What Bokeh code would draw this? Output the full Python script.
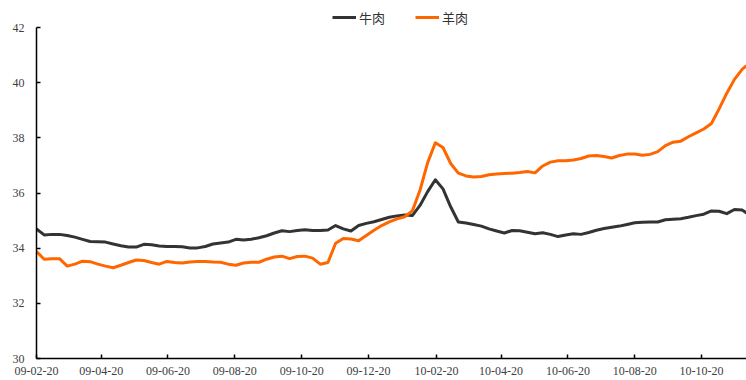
import pandas as pd
from bokeh.plotting import figure
from bokeh.models import (Range1d, FixedTicker, DatetimeTickFormatter, Legend,
                          LegendItem, ColumnDataSource)
from bokeh.embed import file_html
from bokeh.resources import INLINE

# Weekly retail price series (yuan/kg), Feb 2009 - Nov 2010
dates = list(pd.date_range("2009-02-20", periods=93, freq="7D")) + [pd.Timestamp("2010-11-30")]

beef = [
    34.70, 34.48, 34.50, 34.50, 34.46, 34.40, 34.32, 34.24, 34.23, 34.22,
    34.15, 34.09, 34.04, 34.04, 34.14, 34.12, 34.08, 34.06, 34.06, 34.05,
    34.01, 34.01, 34.06, 34.15, 34.19, 34.22, 34.32, 34.30, 34.32, 34.38,
    34.45, 34.55, 34.63, 34.60, 34.64, 34.67, 34.64, 34.64, 34.66, 34.82,
    34.70, 34.62, 34.82, 34.90, 34.96, 35.04, 35.12, 35.17, 35.20, 35.18,
    35.55, 36.05, 36.48, 36.15, 35.50, 34.95, 34.91, 34.86, 34.80, 34.70,
    34.62, 34.55, 34.64, 34.63, 34.58, 34.52, 34.56, 34.50, 34.42, 34.48,
    34.52, 34.50, 34.57, 34.65, 34.71, 34.76, 34.80, 34.86, 34.92, 34.94,
    34.95, 34.95, 35.03, 35.05, 35.07, 35.12, 35.18, 35.23, 35.35, 35.34,
    35.25, 35.40, 35.38, 35.28,
]

mutton = [
    33.88, 33.60, 33.62, 33.62, 33.35, 33.42, 33.53, 33.51, 33.42, 33.35,
    33.29, 33.38, 33.48, 33.57, 33.55, 33.48, 33.42, 33.52, 33.48, 33.46,
    33.50, 33.52, 33.52, 33.50, 33.49, 33.42, 33.38, 33.46, 33.49, 33.49,
    33.60, 33.68, 33.71, 33.62, 33.70, 33.71, 33.64, 33.42, 33.48, 34.18,
    34.35, 34.33, 34.27, 34.46, 34.65, 34.82, 34.95, 35.06, 35.14, 35.35,
    36.10, 37.10, 37.82, 37.65, 37.07, 36.72, 36.62, 36.58, 36.60, 36.66,
    36.69, 36.71, 36.72, 36.74, 36.78, 36.73, 36.98, 37.12, 37.17, 37.17,
    37.20, 37.25, 37.34, 37.36, 37.32, 37.27, 37.36, 37.41, 37.41, 37.37,
    37.40, 37.50, 37.72, 37.84, 37.88, 38.04, 38.18, 38.32, 38.52, 39.05,
    39.62, 40.12, 40.48, 40.62,
]

series_names = ["牛肉", "羊肉"]
series_colors = ["#333333", "#FF6600"]

tick_dates = ["2009-02-20", "2009-04-20", "2009-06-20", "2009-08-20", "2009-10-20",
              "2009-12-20", "2010-02-20", "2010-04-20", "2010-06-20", "2010-08-20",
              "2010-10-20"]
y_ticks = [30, 32, 34, 36, 38, 40, 42]
Y_MIN, Y_MAX = 30, 42

source = ColumnDataSource(dict(date=dates, beef=beef, mutton=mutton))

# The frame reaches a little above the top tick so the legend fits inside it;
# the value axis itself is bounded to 30..42.
TOP_PAD = 20          # px of headroom above the 42 line
FRAME_H = 351         # 380 - top border (7) - bottom border (22)
px_per_unit = (FRAME_H - TOP_PAD) / (Y_MAX - Y_MIN)

p = figure(width=746, height=380, x_axis_type="datetime",
           output_backend="svg", toolbar_location=None,
           x_range=Range1d(dates[0], dates[-1]),
           y_range=Range1d(Y_MIN, Y_MAX + TOP_PAD / px_per_unit),
           min_border_left=36, min_border_right=0, min_border_top=7,
           min_border_bottom=22)
p.outline_line_color = None
p.xgrid.visible = False
p.ygrid.visible = False
p.background_fill_color = "white"
p.border_fill_color = "white"

r_beef = p.line("date", "beef", source=source, line_color=series_colors[0],
                line_width=3, line_join="round")
r_mutton = p.line("date", "mutton", source=source, line_color=series_colors[1],
                  line_width=3, line_join="round")

tick_ms = [pd.Timestamp(d).value / 1e6 for d in tick_dates]
xa = p.xaxis[0]
xa.ticker = FixedTicker(ticks=tick_ms)
fmt = "%y-%m-%d"
xa.formatter = DatetimeTickFormatter(milliseconds=fmt, seconds=fmt, minsec=fmt,
                                     minutes=fmt, hourmin=fmt, hours=fmt,
                                     days=fmt, months=fmt, years=fmt)
ya = p.yaxis[0]
ya.ticker = FixedTicker(ticks=y_ticks)
ya.bounds = (Y_MIN, Y_MAX)

for ax in (xa, ya):
    ax.axis_line_color = "#000000"
    ax.axis_line_width = 1.5
    ax.major_tick_line_color = "#000000"
    ax.major_tick_line_width = 1.5
    ax.major_tick_in = 4
    ax.major_tick_out = 0
    ax.minor_tick_line_color = None
    ax.major_label_text_font = "Liberation Serif"
    ax.major_label_text_font_size = "12px"
    ax.major_label_text_color = "#404040"
xa.major_label_standoff = 8
ya.major_label_standoff = 12

legend = Legend(items=[LegendItem(label=series_names[0], renderers=[r_beef]),
                       LegendItem(label=series_names[1], renderers=[r_mutton])],
                orientation="horizontal", location=(296, FRAME_H - TOP_PAD),
                border_line_color=None, background_fill_alpha=0,
                label_text_font="Noto Sans CJK SC", label_text_font_size="13px",
                label_text_color="#333333", glyph_width=24, glyph_height=14,
                label_height=20, label_standoff=3, spacing=30, padding=0,
                margin=0)
p.add_layout(legend, "center")

open("out.html", "w").write(file_html(p, INLINE))
